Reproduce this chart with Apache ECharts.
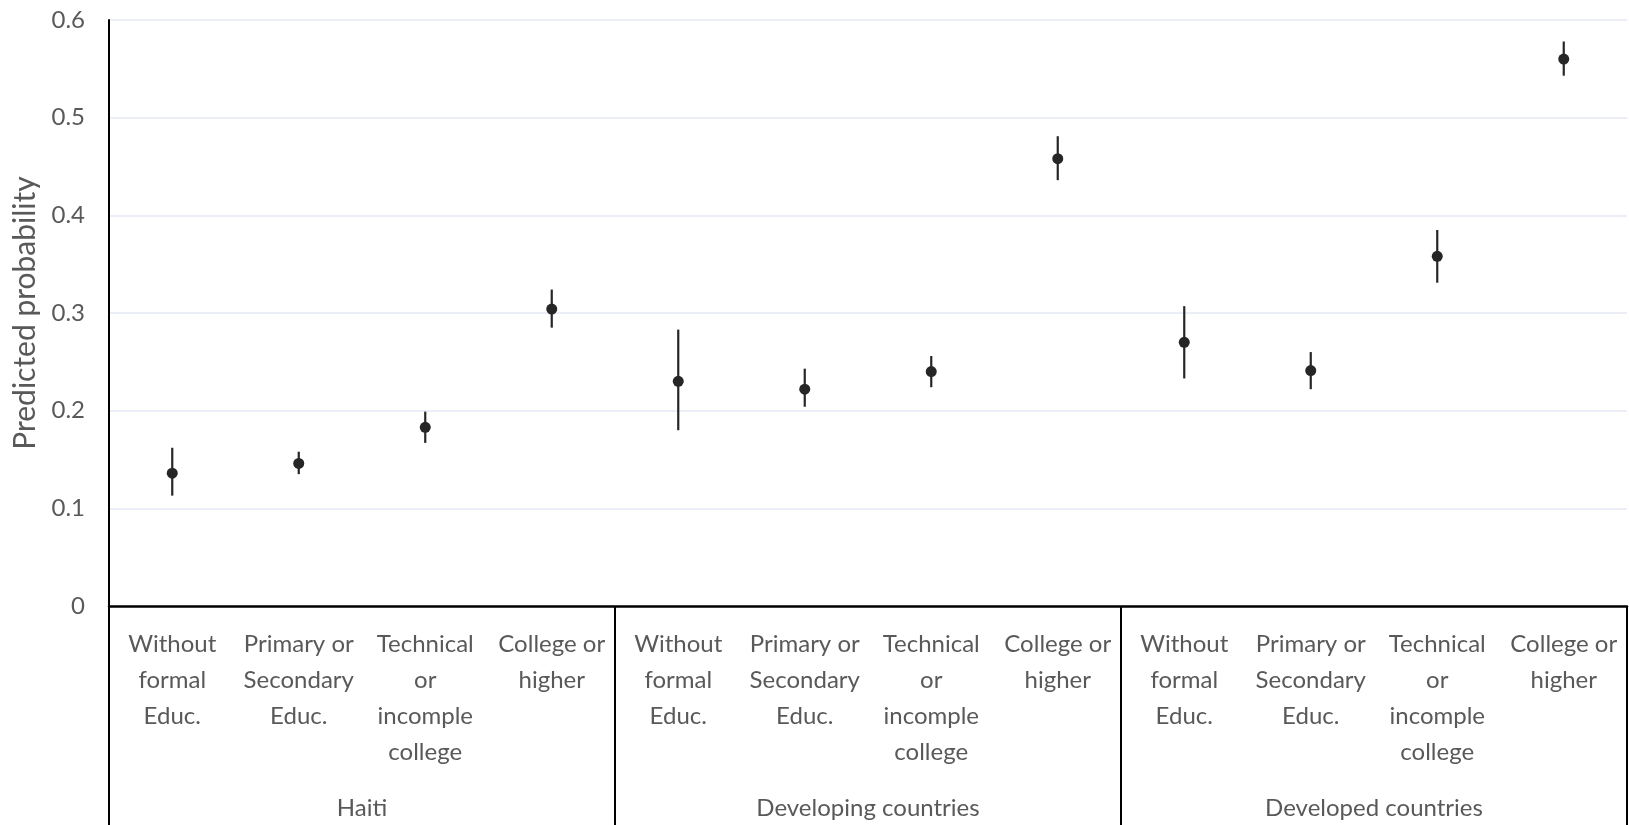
<!DOCTYPE html>
<html>
<head>
<meta charset="utf-8">
<script src="https://cdn.jsdelivr.net/npm/echarts@6/dist/echarts.min.js"></script>
<style>
  html, body { margin: 0; padding: 0; background: #ffffff; }
  #chart { width: 1629px; height: 825px; }
</style>
</head>
<body>
<div id="chart"></div>
<script>
// Region groups shown on the outer axis row
const groups = ['Haiti', 'Developing countries', 'Developed countries'];
// Education levels repeated inside each group
const levels = [
  'Without\nformal\nEduc.',
  'Primary or\nSecondary\nEduc.',
  'Technical\nor\nincomple\ncollege',
  'College or\nhigher'
];
// Predicted probability and its confidence bounds, in group order
const prob  = [0.136, 0.146, 0.183, 0.304, 0.230, 0.222, 0.240, 0.458, 0.270, 0.241, 0.358, 0.560];
const lower = [0.113, 0.135, 0.167, 0.285, 0.180, 0.204, 0.224, 0.436, 0.233, 0.222, 0.331, 0.543];
const upper = [0.162, 0.158, 0.199, 0.324, 0.283, 0.243, 0.256, 0.481, 0.307, 0.260, 0.385, 0.578];
// Value axis ticks
const yTicks = { min: 0, max: 0.6, interval: 0.1 };

const categories = [];
groups.forEach(() => levels.forEach(l => categories.push(l)));

const FONT = 'Lato';
const TEXT = '#595959';
const INK = '#262626';

const chart = echarts.init(document.getElementById('chart'), null, { renderer: 'canvas' });

chart.setOption({
  animation: false,
  backgroundColor: '#ffffff',
  grid: {
    left: 109, right: 2, top: 20, bottom: 219,
    containLabel: false,
    outerBoundsMode: 'none'
  },
  xAxis: [
    {
      type: 'category',
      data: categories,
      position: 'bottom',
      boundaryGap: true,
      axisLine: { show: true, lineStyle: { color: '#000000', width: 2.5 } },
      axisTick: { show: false },
      splitLine: { show: false },
      axisLabel: {
        interval: 0,
        margin: 20,
        color: TEXT,
        fontFamily: FONT,
        fontSize: 24,
        lineHeight: 36,
        align: 'center'
      }
    },
    {
      type: 'category',
      data: groups,
      position: 'bottom',
      boundaryGap: true,
      axisLine: { show: false },
      axisTick: {
        show: true,
        interval: 0,
        alignWithLabel: false,
        length: 240,
        lineStyle: { color: '#000000', width: 2 }
      },
      splitLine: { show: false },
      axisLabel: {
        interval: 0,
        margin: 184,
        color: TEXT,
        fontFamily: FONT,
        fontSize: 24,
        lineHeight: 36
      }
    }
  ],
  yAxis: {
    type: 'value',
    min: yTicks.min,
    max: yTicks.max,
    interval: yTicks.interval,
    name: 'Predicted probability',
    nameLocation: 'middle',
    nameGap: 64,
    nameTextStyle: { color: TEXT, fontFamily: FONT, fontSize: 30 },
    axisLine: { show: true, lineStyle: { color: '#000000', width: 2 } },
    axisTick: { show: false },
    axisLabel: {
      margin: 24,
      color: TEXT,
      fontFamily: FONT,
      fontSize: 24,
      formatter: v => String(Math.round(v * 10) / 10)
    },
    splitLine: { show: true, lineStyle: { color: '#e4e9f4', width: 1.5 } }
  },
  series: [
    {
      // vertical confidence interval bars
      type: 'custom',
      xAxisIndex: 0,
      yAxisIndex: 0,
      data: prob.map((_, i) => [i, lower[i], upper[i]]),
      encode: { x: 0, y: [1, 2] },
      renderItem: function (params, api) {
        const lo = api.coord([api.value(0), api.value(1)]);
        const hi = api.coord([api.value(0), api.value(2)]);
        return {
          type: 'line',
          shape: { x1: lo[0], y1: lo[1], x2: hi[0], y2: hi[1] },
          style: { stroke: INK, lineWidth: 2.2 }
        };
      },
      z: 2
    },
    {
      type: 'scatter',
      xAxisIndex: 0,
      yAxisIndex: 0,
      data: prob.map((v, i) => [i, v]),
      symbol: 'circle',
      symbolSize: 11,
      itemStyle: { color: INK, opacity: 1 },
      z: 3
    }
  ]
});
</script>
</body>
</html>
